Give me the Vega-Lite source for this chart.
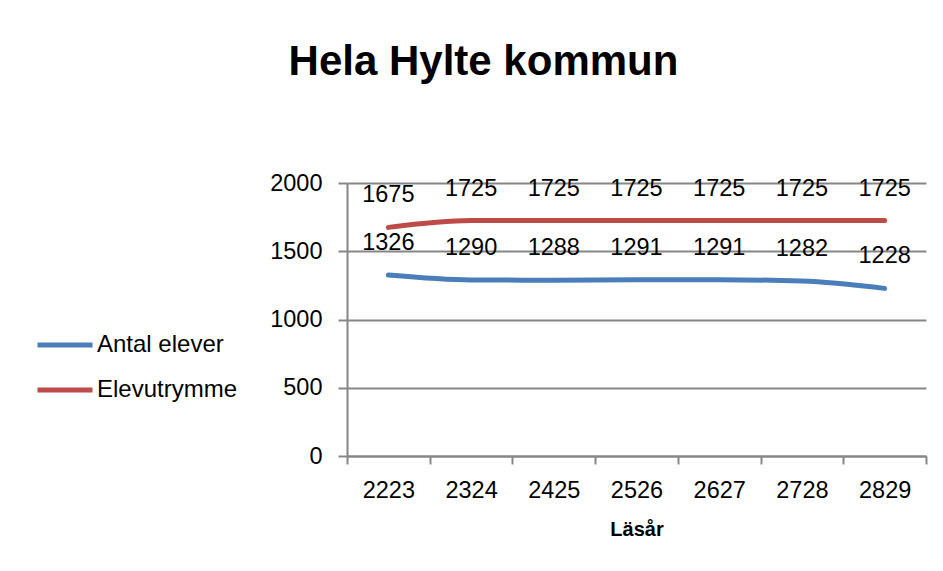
{
  "$schema": "https://vega.github.io/schema/vega-lite/v6.json",
  "width": 579,
  "height": 273,
  "autosize": "none",
  "padding": {"left": 347, "top": 183, "right": 17, "bottom": 115},
  "background": "white",
  "title": {
    "text": "Hela Hylte kommun",
    "font": "Liberation Sans",
    "fontSize": 42,
    "fontWeight": "bold",
    "color": "black",
    "anchor": "middle",
    "dx": -153,
    "offset": 87
  },
  "data": {
    "values": [
      {"year": "2223", "series": "Antal elever", "value": 1326},
      {"year": "2324", "series": "Antal elever", "value": 1290},
      {"year": "2425", "series": "Antal elever", "value": 1288},
      {"year": "2526", "series": "Antal elever", "value": 1291},
      {"year": "2627", "series": "Antal elever", "value": 1291},
      {"year": "2728", "series": "Antal elever", "value": 1282},
      {"year": "2829", "series": "Antal elever", "value": 1228},
      {"year": "2223", "series": "Elevutrymme", "value": 1675},
      {"year": "2324", "series": "Elevutrymme", "value": 1725},
      {"year": "2425", "series": "Elevutrymme", "value": 1725},
      {"year": "2526", "series": "Elevutrymme", "value": 1725},
      {"year": "2627", "series": "Elevutrymme", "value": 1725},
      {"year": "2728", "series": "Elevutrymme", "value": 1725},
      {"year": "2829", "series": "Elevutrymme", "value": 1725}
    ]
  },
  "encoding": {
    "x": {
      "field": "year",
      "type": "nominal",
      "scale": {"type": "band", "paddingInner": 0, "paddingOuter": 0},
      "axis": {
        "title": "Läsår",
        "titleFont": "Liberation Sans",
        "titleFontSize": 20,
        "titleFontWeight": "bold",
        "titleColor": "black",
        "titlePadding": 18,
        "labelFont": "Liberation Sans",
        "labelFontSize": 23.5,
        "labelColor": "black",
        "labelAngle": 0,
        "labelPadding": 14,
        "tickBand": "extent",
        "tickSize": 8,
        "tickColor": "#868686",
        "tickWidth": 2,
        "domainColor": "#868686",
        "domainWidth": 2,
        "grid": false
      }
    },
    "y": {
      "field": "value",
      "type": "quantitative",
      "scale": {"domain": [0, 2000], "nice": false},
      "axis": {
        "title": null,
        "values": [0, 500, 1000, 1500, 2000],
        "format": "d",
        "labelFont": "Liberation Sans",
        "labelFontSize": 23.5,
        "labelColor": "black",
        "labelPadding": 16,
        "tickSize": 9,
        "tickColor": "#868686",
        "tickWidth": 2,
        "domainColor": "#868686",
        "domainWidth": 2,
        "grid": true,
        "gridColor": "#868686",
        "gridWidth": 2
      }
    }
  },
  "layer": [
    {
      "mark": {"type": "line", "strokeWidth": 5, "strokeCap": "round", "interpolate": "monotone"},
      "encoding": {
        "color": {
          "field": "series",
          "type": "nominal",
          "scale": {"domain": ["Antal elever", "Elevutrymme"], "range": ["#4A7EBB", "#BE4B48"]},
          "legend": {
            "title": null,
            "orient": "none",
            "legendX": -312,
            "legendY": 132,
            "symbolType": "stroke",
            "symbolSize": 3025,
            "symbolStrokeWidth": 5,
            "labelFont": "Liberation Sans",
            "labelFontSize": 24,
            "labelColor": "black",
            "labelOffset": 2,
            "rowPadding": 3,
            "labelLimit": 300
          }
        }
      }
    },
    {
      "mark": {"type": "text", "font": "Liberation Sans", "fontSize": 23.5, "color": "black", "baseline": "middle", "dy": -32},
      "encoding": {
        "text": {"field": "value", "type": "quantitative"},
        "detail": {"field": "series"}
      }
    }
  ],
  "config": {"view": {"stroke": null}}
}
